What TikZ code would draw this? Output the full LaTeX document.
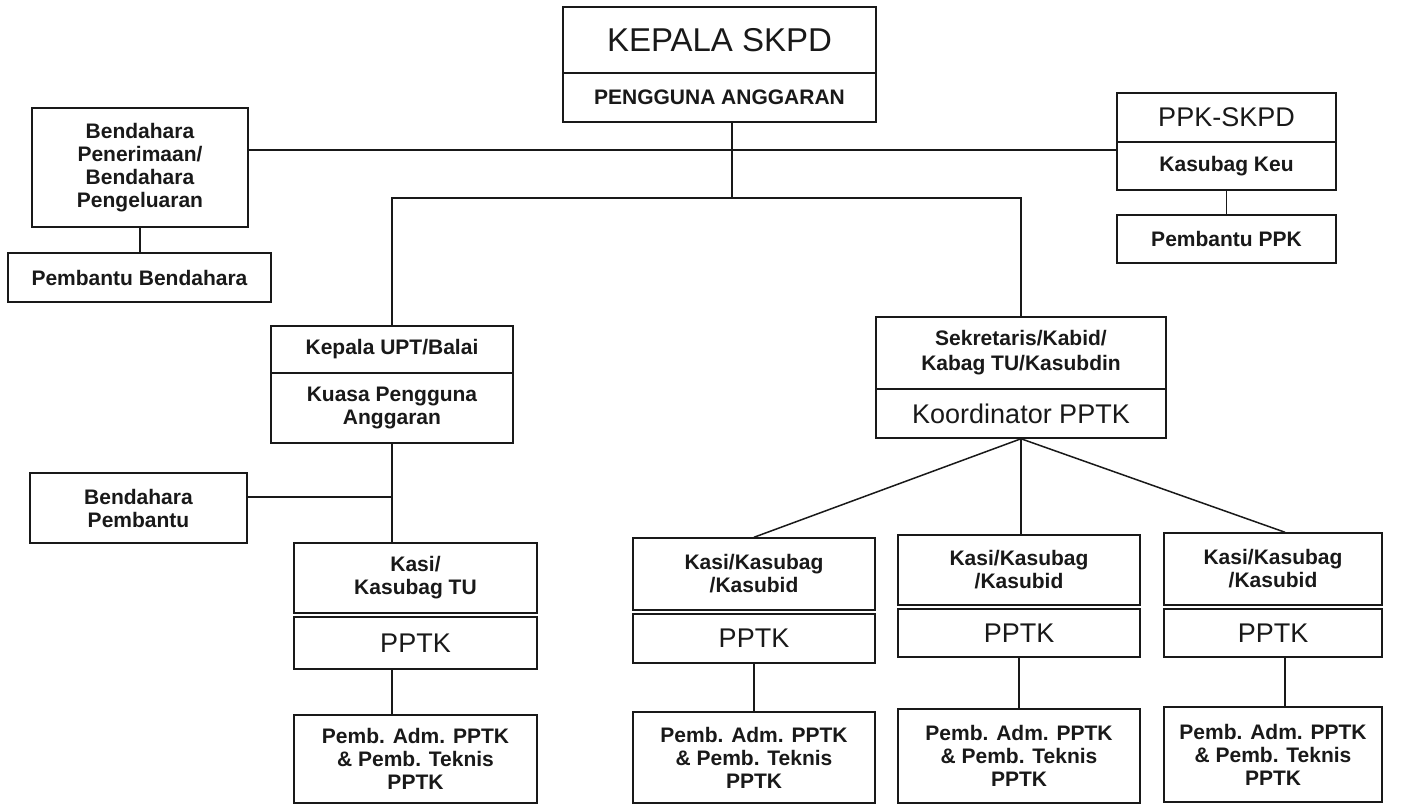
\documentclass[tikz,border=0pt]{standalone}
\usepackage{fontspec}
\setmainfont{Liberation Sans}
\begin{document}
\begin{tikzpicture}[x=1pt,y=-1pt,
  box/.style={draw=black!90, line width=1.5pt, inner sep=0pt, align=center, text=black!90},
  bt/.style={font=\fontsize{21}{23}\selectfont\bfseries},
  rt/.style={font=\fontsize{#1}{#1}\selectfont},
  ln/.style={draw=black!90, line width=1.5pt}]
\useasboundingbox[fill=white] (0,0) rectangle (1406,807);
% top
\node[box, rt=33, minimum width=313pt, minimum height=66pt] (kep) at (719.5,40) {KEPALA SKPD};
\node[box, bt, minimum width=313pt, minimum height=49pt] (pa) at (719.5,97.5) {PENGGUNA ANGGARAN};
% left bendahara
\node[box, bt, minimum width=216pt, minimum height=119pt] (bend) at (140,167.5) {Bendahara\\Penerimaan/\\Bendahara\\Pengeluaran};
\node[box, bt, minimum width=263pt, minimum height=49pt] (pbend) at (139.5,277.5) {Pembantu Bendahara};
% right ppk
\node[box, rt=27, minimum width=219pt, minimum height=49pt] (ppk) at (1226.5,117.5) {PPK-SKPD};
\node[box, bt, minimum width=219pt, minimum height=48pt] (keu) at (1226.5,166) {Kasubag Keu};
\node[box, bt, minimum width=219pt, minimum height=48pt] (pppk) at (1226.5,239) {Pembantu PPK};
% UPT branch
\node[box, bt, minimum width=242pt, minimum height=47pt] (upt) at (392,349.5) {Kepala UPT/Balai};
\node[box, bt, minimum width=242pt, minimum height=70pt] (kpa) at (392,408) {Kuasa Pengguna\\Anggaran};
\node[box, bt, minimum width=217pt, minimum height=70pt] (bpemb) at (138.5,508) {Bendahara\\Pembantu};
\node[box, bt, minimum width=243pt, minimum height=70pt] (kasiTU) at (415.5,578) {Kasi/\\Kasubag TU};
\node[box, rt=27, minimum width=243pt, minimum height=52pt] (pptk0) at (415.5,643) {PPTK};
\node[box, bt, minimum width=243pt, minimum height=88pt] (pemb0) at (415.5,759) {Pemb. Adm. PPTK\\\& Pemb. Teknis\\PPTK};
% Sekretaris branch
\node[box, bt, font=\fontsize{21}{25}\selectfont\bfseries, minimum width=290pt, minimum height=72pt] (sek) at (1021,353) {Sekretaris/Kabid/\\Kabag TU/Kasubdin};
\node[box, rt=27, minimum width=290pt, minimum height=49pt] (koord) at (1021,413.5) {Koordinator PPTK};
\node[box, bt, minimum width=242pt, minimum height=72pt] (kasi1) at (754,574) {Kasi/Kasubag\\/Kasubid};
\node[box, rt=27, minimum width=242pt, minimum height=49pt] (pptk1) at (754,638.5) {PPTK};
\node[box, bt, minimum width=242pt, minimum height=91pt] (pemb1) at (754,757.5) {Pemb. Adm. PPTK\\\& Pemb. Teknis\\PPTK};
\node[box, bt, minimum width=242pt, minimum height=70pt] (kasi2) at (1019,570) {Kasi/Kasubag\\/Kasubid};
\node[box, rt=27, minimum width=242pt, minimum height=48pt] (pptk2) at (1019,633) {PPTK};
\node[box, bt, minimum width=242pt, minimum height=94pt] (pemb2) at (1019,756) {Pemb. Adm. PPTK\\\& Pemb. Teknis\\PPTK};
\node[box, bt, minimum width=218pt, minimum height=72pt] (kasi3) at (1273,569) {Kasi/Kasubag\\/Kasubid};
\node[box, rt=27, minimum width=218pt, minimum height=48pt] (pptk3) at (1273,633) {PPTK};
\node[box, bt, minimum width=218pt, minimum height=95pt] (pemb3) at (1273,754.5) {Pemb. Adm. PPTK\\\& Pemb. Teknis\\PPTK};
% connectors
\coordinate (hl) at (732,150);
\coordinate (br) at (732,198);
\draw[ln] (bend.east |- hl) -- (keu.west |- hl);
\draw[ln] (pa.south -| hl) -- (br);
\draw[ln] (upt.north) |- (br) -| (sek.north);
\draw[ln] (bend.south) -- (pbend.north -| bend.south);
\draw[ln] (keu.south) -- (pppk.north);
\draw[ln] (kpa.south) -- (kpa.south |- kasiTU.north);
\draw[ln] ([yshift=11pt]bpemb.east) -- ([yshift=11pt]bpemb.east -| kpa.south);
\draw[ln] (kpa.south |- pptk0.south) -- (kpa.south |- pemb0.north);
\draw[ln] (koord.south) -- (kasi1.north);
\draw[ln] (koord.south) -- (kasi2.north -| koord.south);
\draw[ln] (koord.south) -- ([xshift=12pt]kasi3.north);
\draw[ln] (pptk1.south) -- (pemb1.north);
\draw[ln] (pptk2.south) -- (pemb2.north);
\draw[ln] ([xshift=12pt]pptk3.south) -- ([xshift=12pt]pemb3.north);
\end{tikzpicture}
\end{document}
